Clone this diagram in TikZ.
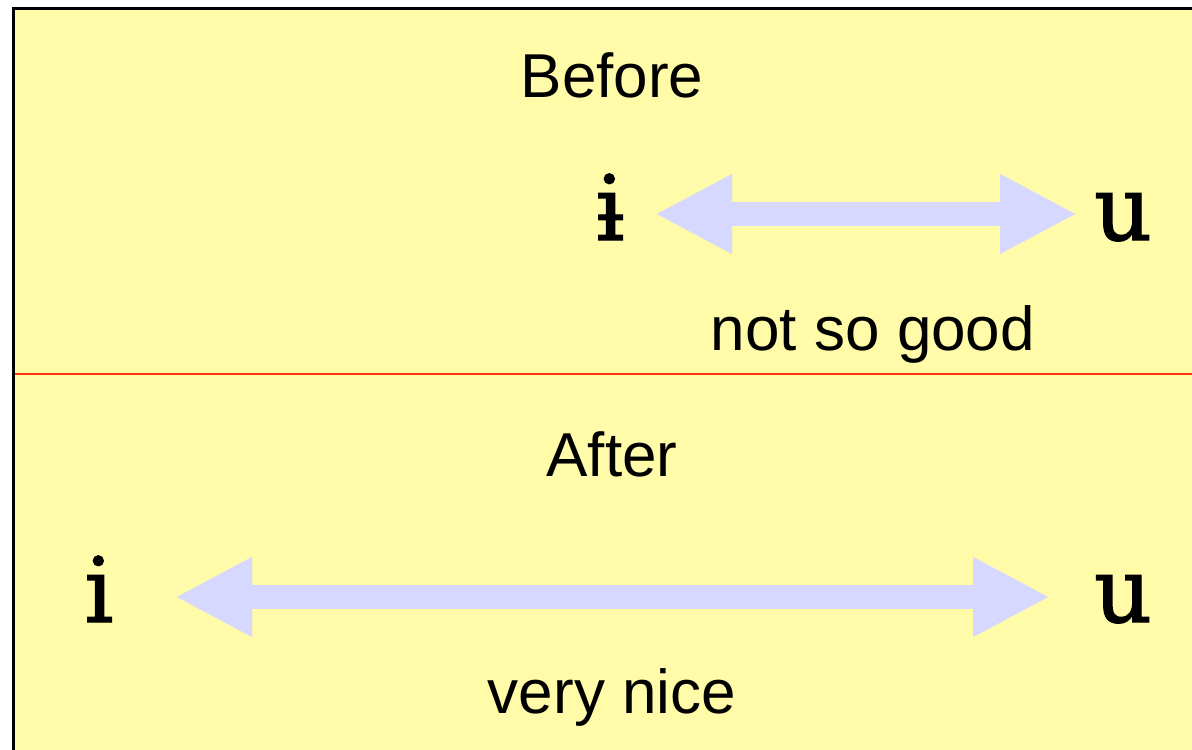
\documentclass[tikz,border=0pt]{standalone}
\usepackage{fontspec}
\setmainfont{Liberation Sans}
\newfontfamily\ipafont[FakeBold=1.5]{DejaVu Serif}
\usetikzlibrary{arrows.meta}
\definecolor{paneyellow}{HTML}{FFFBA8}
\definecolor{arrowblue}{HTML}{D6D8FF}
\definecolor{splitred}{HTML}{FF3311}
\tikzset{
  label text/.style={anchor=base, inner sep=0pt, font=\fontsize{62}{68}\selectfont},
  vowel/.style={anchor=base, inner sep=0pt, font=\ipafont\fontsize{90}{96}\selectfont},
  fat arrow/.style={draw=arrowblue, line width=24pt,
    {Triangle[length=77pt,width=74pt]}-{Triangle[length=77pt,width=74pt]}}
}
\begin{document}
\begin{tikzpicture}[x=1pt,y=-1pt]
\useasboundingbox (0,0) rectangle (1192,750);
\clip (0,0) rectangle (1192,750);
\fill[white] (0,0) rectangle (1192,750);
\draw[line width=3pt, fill=paneyellow] (13.5,8.5) rectangle (1210,770);
\coordinate (splitL) at (15,374);
\coordinate (splitR) at (1200,374);
\draw[splitred, line width=2pt] (splitL) -- (splitR);

\node[label text] (before) at (612,97) {Before};
\node[vowel] (i1) at (610,240) {ɨ};
\node[vowel] (u1) at (1123,240) {u};
\coordinate (a1l) at (655,214);
\coordinate (a1r) at (1077,214);
\draw[fat arrow] (a1l) -- (a1r);
\node[label text] (bad) at (873,350) {not so good};

\node[label text] (after) at (612,476) {After};
\node[vowel] (i2) at (99,622) {i};
\node[vowel] (u2) at (1123,622) {u};
\coordinate (a2l) at (175,597);
\coordinate (a2r) at (1050,597);
\draw[fat arrow] (a2l) -- (a2r);
\node[label text] (good) at (612,713) {very nice};
\end{tikzpicture}
\end{document}
